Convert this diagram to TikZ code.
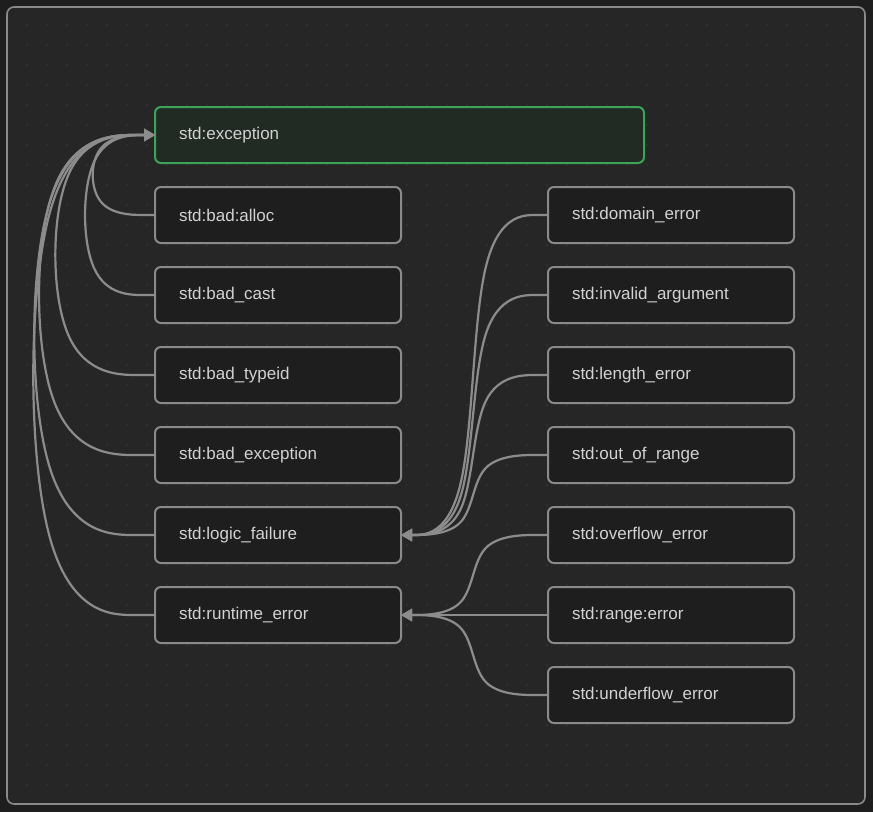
\documentclass[tikz,border=0pt]{standalone}
\usepackage{fontspec}
\setmainfont{Liberation Sans}
\usepackage{xcolor}
\usepackage{tikz}
\usetikzlibrary{arrows.meta, positioning, calc}

\definecolor{pagebg}{HTML}{1E1E1E}
\definecolor{framebg}{HTML}{262626}
\definecolor{framegray}{HTML}{8A8A8A}
\definecolor{dotgray}{HTML}{3A3A3A}
\definecolor{boxbg}{HTML}{1E1E1E}
\definecolor{rootbg}{HTML}{212A23}
\definecolor{rootgreen}{HTML}{3DA35A}
\definecolor{textgray}{HTML}{D2D2D2}
\definecolor{edgegray}{HTML}{8C8C8C}

% smooth edge from #1 to #2, bending through the vertical line x = #3
\newcommand{\bsedge}[3]{%
  \coordinate (bs0) at (#1);
  \coordinate (bsx) at (#3,0);
  \coordinate (bs1) at (bs0 -| bsx);
  \coordinate (bs3) at (#2);
  \coordinate (bs2) at (bs3 -| bsx);
  \coordinate (bsm1) at ($(bs0)!0.5!(bs2)$);
  \coordinate (bsm2) at ($(bs1)!0.5!(bs3)$);
  \draw[arrow] (bs0) -- ($(bs0)!1/6!(bs1)$)
    .. controls ($(bs0)!1/3!(bs1)$) and ($(bs0)!2/3!(bs1)$) .. ($(bs1)!1/3!(bsm1)$)
    .. controls ($(bs1)!1/3!(bs2)$) and ($(bs1)!2/3!(bs2)$) .. ($(bs2)!1/3!(bsm2)$)
    .. controls ($(bs2)!1/3!(bs3)$) and ($(bs2)!2/3!(bs3)$) .. ($(bs2)!5/6!(bs3)$) -- (bs3);
}

\begin{document}
\begin{tikzpicture}[
    x=1pt, y=-1pt,
    node distance=24pt,
    cls/.style={rectangle, rounded corners=6pt, draw=framegray, line width=2pt, fill=boxbg,
        text=textgray, font=\fontsize{17}{20}\selectfont, text width=198pt, inner xsep=24pt,
        minimum height=56pt, outer sep=0pt, align=left},
    root/.style={cls, draw=rootgreen, fill=rootbg, text width=441pt},
    arrow/.style={draw=edgegray, line width=2.2pt, -{Triangle[length=11pt,width=12pt]}}
]
\useasboundingbox (0,0) rectangle (873,812);
\fill[pagebg] (0,0) rectangle (873,812);
\draw[fill=framebg, draw=framegray, line width=1.6pt, rounded corners=7pt] (7,7) rectangle (865,804);

% dotted grid
\foreach \i in {0,...,41}
  \foreach \j in {0,...,38}
    \fill[dotgray] (27+20*\i,25+20*\j) circle (0.8pt);

% Nodes
\node[root, anchor=north west] (exc) at (155,107) {std:exception};
\node[cls, below=of exc.south west, anchor=north west] (balloc) {std:bad:alloc};
\node[cls, below=of balloc] (bcast) {std:bad\_cast};
\node[cls, below=of bcast] (btypeid) {std:bad\_typeid};
\node[cls, below=of btypeid] (bexc) {std:bad\_exception};
\node[cls, below=of bexc] (logic) {std:logic\_failure};
\node[cls, below=of logic] (runtime) {std:runtime\_error};

\node[cls, right=147pt of balloc] (domain) {std:domain\_error};
\node[cls, below=of domain] (invarg) {std:invalid\_argument};
\node[cls, below=of invarg] (length) {std:length\_error};
\node[cls, below=of length] (range) {std:out\_of\_range};
\node[cls, below=of range] (overflow) {std:overflow\_error};
\node[cls, below=of overflow] (rangeerr) {std:range:error};
\node[cls, below=of rangeerr] (underflow) {std:underflow\_error};

% Arrows to std:exception
\bsedge{balloc.west}{exc.west}{90}
\bsedge{bcast.west}{exc.west}{82}
\bsedge{btypeid.west}{exc.west}{51}
\bsedge{bexc.west}{exc.west}{34}
\bsedge{logic.west}{exc.west}{29}
\bsedge{runtime.west}{exc.west}{28}

% Arrows to std:logic_failure
\foreach \n in {domain, invarg, length, range} {
  \bsedge{\n.west}{logic.east}{473}
}

% Arrows to std:runtime_error
\foreach \n in {overflow, rangeerr, underflow} {
  \bsedge{\n.west}{runtime.east}{473}
}

\end{tikzpicture}
\end{document}
